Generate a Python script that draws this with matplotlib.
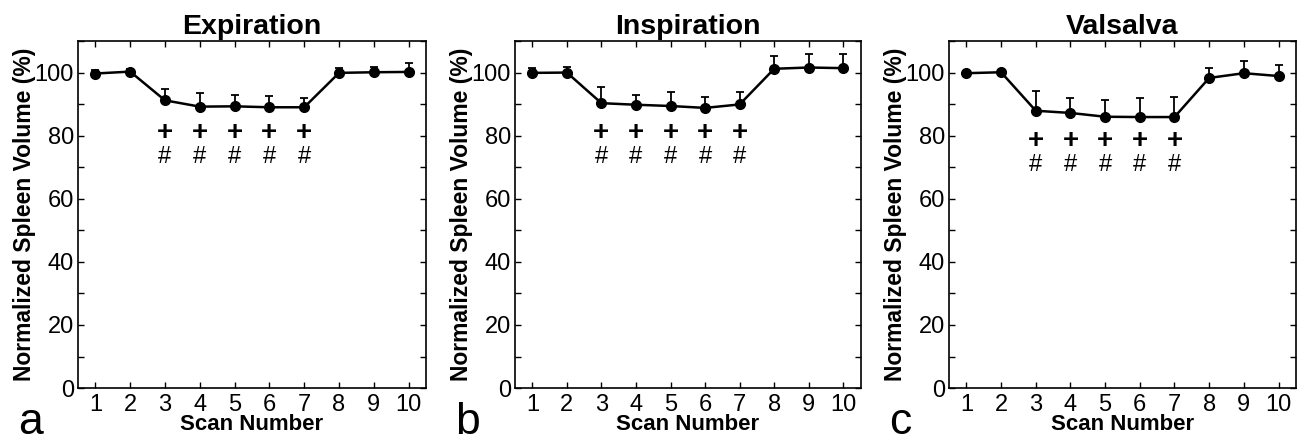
import matplotlib.pyplot as plt
from matplotlib.ticker import MultipleLocator

plt.rcParams['font.family'] = ['Liberation Sans', 'DejaVu Sans']

scans = [1, 2, 3, 4, 5, 6, 7, 8, 9, 10]
titles = ['Expiration', 'Inspiration', 'Valsalva']
panel_letters = ['a', 'b', 'c']

# mean normalized spleen volume (%) and upper SD
expiration = [99.7, 100.3, 91.2, 89.2, 89.3, 89.0, 89.0, 99.9, 100.1, 100.2]
expiration_sd = [1.0, 0.7, 3.6, 4.2, 3.6, 3.5, 2.8, 1.6, 1.6, 2.7]
inspiration = [99.9, 100.0, 90.3, 89.8, 89.4, 88.8, 89.9, 101.2, 101.6, 101.4]
inspiration_sd = [1.6, 1.8, 5.1, 3.1, 4.3, 3.6, 4.0, 4.2, 4.4, 4.4]
valsalva = [99.8, 100.1, 87.9, 87.2, 86.0, 85.9, 85.9, 98.3, 99.8, 98.9]
valsalva_sd = [0.3, 0.3, 6.3, 4.7, 5.2, 5.9, 6.2, 3.2, 3.9, 3.4]

# significance markers (scans 3-7) and their heights per panel
sig_scans = [3, 4, 5, 6, 7]
plus_y = [80.8, 80.8, 78.2]
hash_y = [73.1, 73.1, 70.8]

means = [expiration, inspiration, valsalva]
sds = [expiration_sd, inspiration_sd, valsalva_sd]

fig = plt.figure(figsize=(12.99, 4.41), dpi=100)
lefts = [0.060, 0.3965, 0.7306]
widths = [0.268, 0.266, 0.267]

for i in range(3):
    ax = fig.add_axes([lefts[i], 0.120, widths[i], 0.787])
    ax.errorbar(scans, means[i], yerr=[[0] * len(scans), sds[i]],
                color='black', marker='o', markersize=7, linewidth=1.8,
                elinewidth=1.3, capsize=3, capthick=1.3)
    for s in sig_scans:
        ax.text(s, plus_y[i], '+', ha='center', va='center', fontsize=20, fontweight='bold')
        ax.text(s, hash_y[i], '#', ha='center', va='center', fontsize=17)

    ax.set_xlim(0.5, 10.5)
    ax.set_ylim(0, 110)
    ax.set_xticks(scans)
    ax.set_yticks([0, 20, 40, 60, 80, 100])
    ax.yaxis.set_minor_locator(MultipleLocator(10))
    ax.tick_params(which='both', direction='in', top=True, right=True, labelsize=17,
                   length=4.5, width=1)
    ax.tick_params(axis='x', pad=4)
    ax.tick_params(axis='y', pad=3)
    for sp in ax.spines.values():
        sp.set_linewidth(1.2)

    ax.set_title(titles[i], fontsize=20.5, fontweight='bold', pad=5)
    ax.set_xlabel('Scan Number', fontsize=16, fontweight='bold', labelpad=-1)
    ax.set_ylabel('Normalized Spleen Volume (%)', fontsize=16.5, fontweight='bold', labelpad=-1)
    fig.text(lefts[i] - 0.046, 0.015, panel_letters[i], fontsize=32)

fig.savefig('out.png', dpi=100)
